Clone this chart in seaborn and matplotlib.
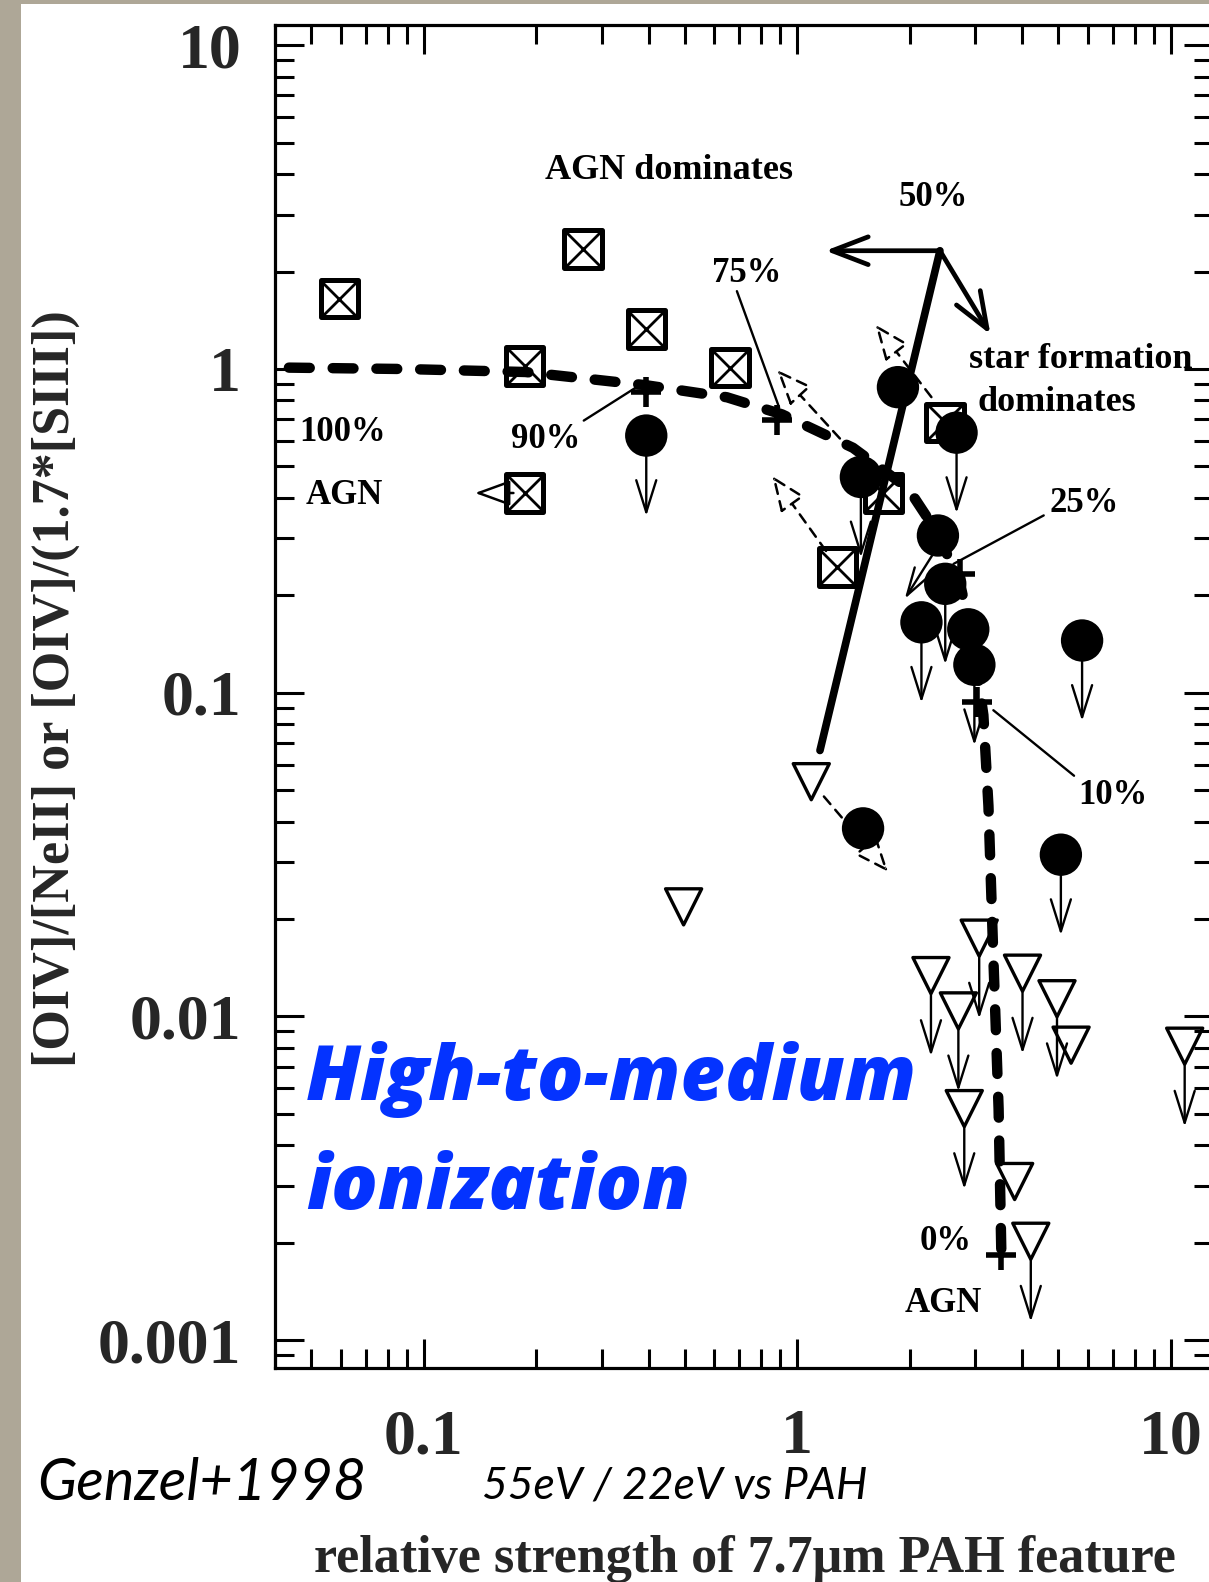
import numpy as np
import pandas as pd
import matplotlib
matplotlib.use("Agg")
import matplotlib.pyplot as plt
import seaborn as sns
from matplotlib.patches import Rectangle

# ---------------- data ----------------
# crossed open squares
sq_x = [0.0594, 0.267, 0.394, 0.186, 0.660, 0.186, 1.28, 1.70, 2.49]
sq_y = [1.65, 2.35, 1.33, 1.02, 1.01, 0.414, 0.245, 0.414, 0.684]

# filled circles (upper limits flagged)
circ_x = [0.394, 1.86, 2.67, 1.48, 2.38, 2.49, 2.15, 2.87, 2.98, 5.79, 1.50, 5.08]
circ_y = [0.623, 0.879, 0.636, 0.464, 0.306, 0.217, 0.165, 0.157, 0.122, 0.145, 0.0381, 0.0316]
circ_lim = [True, False, True, True, False, True, True, False, True, True, False, True]

# open down-triangles (upper limits flagged)
tri_x = [1.09, 0.496, 2.28, 3.07, 2.70, 4.01, 4.96, 5.41, 2.80, 3.82, 4.22, 10.9]
tri_y = [0.0531, 0.0218, 0.01337, 0.01745, 0.0104, 0.0136, 0.01134, 0.00815, 0.00519, 0.00309, 0.00202, 0.00809]
tri_lim = [False, False, True, True, True, True, True, False, True, False, True, True]

# AGN / star-formation mixing curve
mix_x = [0.0435, 0.0889, 0.187, 0.394, 0.648, 0.911, 1.41, 1.98, 2.38, 2.73, 2.96, 3.15, 3.25, 3.35, 3.46, 3.52]
mix_y = [1.01, 1.00, 0.979, 0.891, 0.818, 0.724, 0.571, 0.428, 0.310, 0.217, 0.141, 0.0853, 0.0447, 0.0152, 0.00519, 0.00183]

# mixing-curve percentage marks (+)
pct_x = [0.394, 0.883, 2.73, 3.02, 3.52]
pct_y = [0.848, 0.698, 0.233, 0.0935, 0.00183]

# 50% dividing line
div_x = [1.15, 2.41]
div_y = [0.0663, 2.32]

x_ticks = [0.1, 1, 10]
x_ticklabels = ["0.1", "1", "10"]
y_ticks = [0.001, 0.01, 0.1, 1, 10]
y_ticklabels = ["0.001", "0.01", "0.1", "1", "10"]

# ---------------- figure ----------------
sns.set_theme(style="ticks")
plt.rcParams["font.family"] = ["Liberation Serif", "DejaVu Serif"]

W, H = 1209, 1582
fig = plt.figure(figsize=(W / 100, H / 100), dpi=100)
fig.patch.set_facecolor("white")
# paper-like border strips
fig.add_artist(Rectangle((0, 0), 21 / W, 1, transform=fig.transFigure,
                         facecolor="#aea797", edgecolor="none", zorder=0))
fig.add_artist(Rectangle((0, 1 - 4 / H), 1, 4 / H, transform=fig.transFigure,
                         facecolor="#aea797", edgecolor="none", zorder=0))

ax_l, ax_r, ax_t, ax_b = 274.5, 1213, 25.2, 1367.5
ax = fig.add_axes([ax_l / W, 1 - ax_b / H, (ax_r - ax_l) / W, (ax_b - ax_t) / H])
ax.set_facecolor("white")
ax.set_xscale("log")
ax.set_yscale("log")
ax.set_xlim(0.0398, 12.98)
ax.set_ylim(0.000823, 11.54)

for s in ax.spines.values():
    s.set_linewidth(2.3)
    s.set_color("black")
    s.set_visible(True)

ax.tick_params(which="both", direction="in", top=True, right=True, color="black",
               width=2.2)
ax.tick_params(which="major", length=21, pad=24)
ax.tick_params(which="minor", length=14)
ax.tick_params(axis="x", which="major", pad=30)
ax.set_xticks(x_ticks)
ax.set_xticklabels(x_ticklabels)
ax.set_yticks(y_ticks)
ax.set_yticklabels(y_ticklabels)
for lab in ax.get_xticklabels() + ax.get_yticklabels():
    lab.set_fontsize(46)
    lab.set_fontweight("bold")
ax.xaxis.set_minor_locator(matplotlib.ticker.LogLocator(base=10, subs=np.arange(2, 10)))
ax.yaxis.set_minor_locator(matplotlib.ticker.LogLocator(base=10, subs=np.arange(2, 10)))
ax.xaxis.set_minor_formatter(matplotlib.ticker.NullFormatter())
ax.yaxis.set_minor_formatter(matplotlib.ticker.NullFormatter())

# ---------------- lines ----------------
mix_df = pd.DataFrame({"x": mix_x, "y": mix_y})
sns.lineplot(data=mix_df, x="x", y="y", sort=False, ax=ax, color="black",
             lw=7.5, dashes=False, zorder=2)
ax.lines[-1].set_dashes((2.0, 2.2))
ax.lines[-1].set_dash_capstyle("round")

div_df = pd.DataFrame({"x": div_x, "y": div_y})
sns.lineplot(data=div_df, x="x", y="y", sort=False, ax=ax, color="black",
             lw=5.5, zorder=2)
ax.lines[-1].set_solid_capstyle("round")

# arrows from the top of the dividing line
top = (div_x[1], div_y[1])
ax.annotate("", xy=(1.19, div_y[1]), xytext=top,
            arrowprops=dict(arrowstyle="->,head_length=1.3,head_width=0.5", lw=3.4,
                            color="black", mutation_scale=20, shrinkA=0, shrinkB=0))
ax.annotate("", xy=(3.29, 1.28), xytext=top,
            arrowprops=dict(arrowstyle="->,head_length=1.3,head_width=0.5", lw=3.4,
                            color="black", mutation_scale=20, shrinkA=0, shrinkB=0))

# ---------------- markers ----------------
sq_df = pd.DataFrame({"x": sq_x, "y": sq_y})
sns.scatterplot(data=sq_df, x="x", y="y", marker="s", s=27 ** 2, facecolor="none",
                edgecolor="black", linewidth=3.6, ax=ax, zorder=5)
sns.scatterplot(data=sq_df, x="x", y="y", marker="x", s=25 ** 2, color="black",
                linewidth=2.0, ax=ax, zorder=5)

circ_df = pd.DataFrame({"x": circ_x, "y": circ_y})
sns.scatterplot(data=circ_df, x="x", y="y", marker="o", s=30.5 ** 2, color="black",
                edgecolor="none", ax=ax, zorder=5)

tri_df = pd.DataFrame({"x": tri_x, "y": tri_y})
sns.scatterplot(data=tri_df, x="x", y="y", marker="v", s=26 ** 2, facecolor="none",
                edgecolor="black", linewidth=2.4, ax=ax, zorder=5)

pct_df = pd.DataFrame({"x": pct_x, "y": pct_y})
sns.scatterplot(data=pct_df, x="x", y="y", marker="+", s=22 ** 2, color="black",
                linewidth=4, ax=ax, zorder=4)

# upper-limit arrows
lim_style = dict(arrowstyle="<-,head_length=1.15,head_width=0.36", lw=1.7,
                 color="black", mutation_scale=20, shrinkA=0)
for x, y, lim in zip(circ_x, circ_y, circ_lim):
    if lim:
        ax.annotate("", xy=(x, y), xytext=(0, -58), textcoords="offset points",
                    arrowprops=dict(**lim_style, shrinkB=0), zorder=3)
for x, y, lim in zip(tri_x, tri_y, tri_lim):
    if lim:
        ax.annotate("", xy=(x, y), xytext=(0, -58), textcoords="offset points",
                    arrowprops=dict(**lim_style, shrinkB=13), zorder=3)

# dashed open-head arrows (changes between measurements)
dash_style = dict(arrowstyle="-|>,head_length=1.1,head_width=0.45", lw=1.8,
                  linestyle=(0, (4, 3)), fc="white", ec="black", mutation_scale=20,
                  shrinkA=14, shrinkB=0)
ax.annotate("", xy=(0.857, 0.467), xytext=(1.28, 0.245), arrowprops=dash_style, zorder=3)
ax.annotate("", xy=(1.62, 1.37), xytext=(2.46, 0.734), arrowprops=dash_style, zorder=3)
ax.annotate("", xy=(0.883, 0.993), xytext=(1.41, 0.551), arrowprops=dash_style, zorder=3)
ax.annotate("", xy=(1.75, 0.028), xytext=(1.09, 0.0531), arrowprops=dash_style, zorder=3)
ax.annotate("", xy=(0.137, 0.414), xytext=(0.186, 0.414),
            arrowprops=dict(arrowstyle="-|>,head_length=1.1,head_width=0.4", lw=1.8,
                            fc="white", ec="black", mutation_scale=20,
                            shrinkA=8, shrinkB=0), zorder=3)
ax.annotate("", xy=(1.94, 0.195), xytext=(2.36, 0.279),
            arrowprops=dict(arrowstyle="->,head_length=1.0,head_width=0.3", lw=1.7,
                            color="black", mutation_scale=20, shrinkA=0, shrinkB=0),
            zorder=3)

# leader lines for percentage labels
leaders = [((0.689, 1.74), (0.894, 0.761)),
           ((0.268, 0.693), (0.371, 0.879)),
           ((4.57, 0.353), (2.62, 0.250)),
           ((5.51, 0.0554), (3.35, 0.0883))]
for (x0, y0), (x1, y1) in leaders:
    ax.annotate("", xy=(x1, y1), xytext=(x0, y0),
                arrowprops=dict(arrowstyle="-", lw=1.7, color="black",
                                shrinkA=0, shrinkB=0), zorder=3)

# ---------------- text ----------------
tkw = dict(ha="center", va="center", fontweight="bold", color="black", zorder=6)
ax.text(0.452, 4.11, "AGN dominates", fontsize=26, **tkw)
ax.text(2.31, 3.39, "50%", fontsize=25, **tkw)
ax.text(0.733, 1.98, "75%", fontsize=25, **tkw)
ax.text(5.75, 1.07, "star formation", fontsize=26, **tkw)
ax.text(4.96, 0.789, "dominates", fontsize=26, **tkw)
ax.text(0.0605, 0.636, "100%", fontsize=25, **tkw)
ax.text(0.0612, 0.408, "AGN", fontsize=25, **tkw)
ax.text(0.212, 0.605, "90%", fontsize=25, **tkw)
ax.text(5.86, 0.385, "25%", fontsize=25, **tkw)
ax.text(6.98, 0.048, "10%", fontsize=25, **tkw)
ax.text(2.49, 0.00201, "0%", fontsize=25, **tkw)
ax.text(2.46, 0.0013, "AGN", fontsize=25, **tkw)

bkw = dict(ha="left", va="center", fontsize=55.5, fontweight="heavy", fontstyle="italic",
           color="#0433ff", family=["Open Sans", "DejaVu Sans"], zorder=6)
fig.text(306 / W, 1 - 1080 / H, "High-to-medium", **bkw)
fig.text(306 / W, 1 - 1189 / H, "ionization", **bkw)

ax.set_ylabel("[OIV]/[NeII] or [OIV]/(1.7*[SIII])", fontsize=37.5, fontweight="bold",
              va="center")
ax.yaxis.set_label_coords((55.5 - ax_l) / (ax_r - ax_l), (ax_b - 689) / (ax_b - ax_t))
ax.set_xlabel("relative strength of 7.7\u03bcm PAH feature", fontsize=37.5,
              fontweight="bold", va="center")
ax.xaxis.set_label_coords((744.5 - ax_l) / (ax_r - ax_l), (ax_b - 1559) / (ax_b - ax_t))

fig.text(37 / W, 1 - 1484 / H, "Genzel+1998", ha="left", va="center", fontsize=41.5,
         fontstyle="italic", family=["Lato", "DejaVu Sans"], color="black")
fig.text(482 / W, 1 - 1486 / H, "55eV / 22eV vs PAH", ha="left", va="center",
         fontsize=32, fontstyle="italic", family=["Lato", "DejaVu Sans"], color="black")

fig.savefig("out.png", dpi=100)
